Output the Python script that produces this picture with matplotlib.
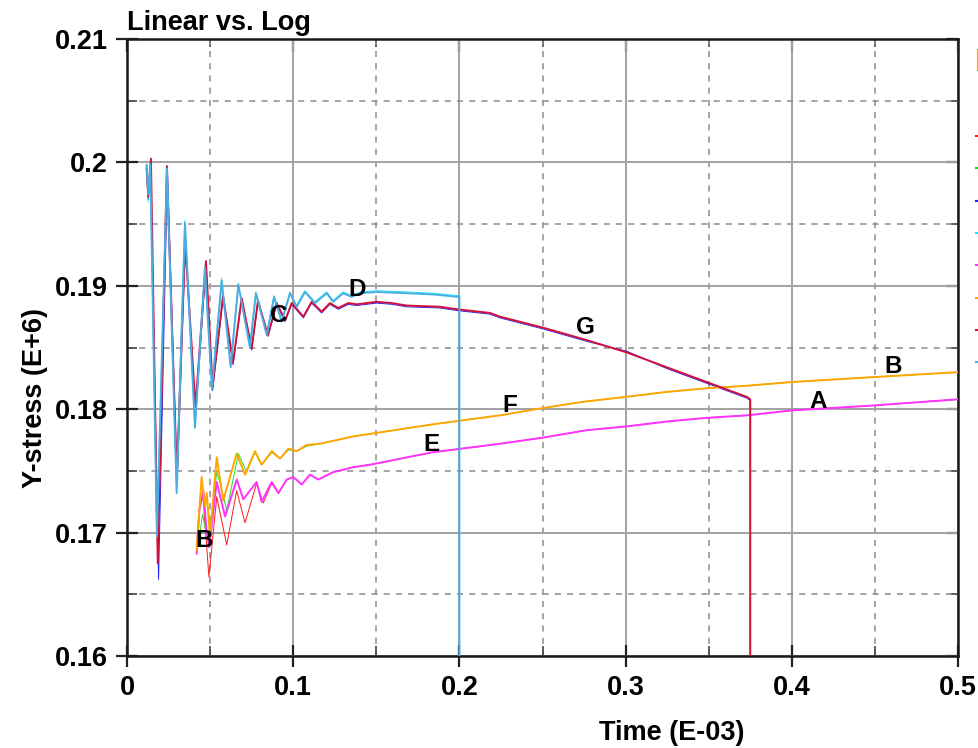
import matplotlib
matplotlib.use("Agg")
import matplotlib.pyplot as plt
from matplotlib.lines import Line2D
import numpy as np

# ---- curve data: time (E-03) and Y-stress (E+6) ----
# Group started at t ~ 0.012 (crimson/blue ends at 0.375, lightblue/cyan ends at 0.2)
crimson_t = [0.0118, 0.0128, 0.0144, 0.0185, 0.0240, 0.0300, 0.0350, 0.0412, 0.0475,
             0.0515, 0.0578, 0.0638, 0.0690, 0.0750, 0.0788, 0.0848, 0.0901, 0.0951,
             0.0991, 0.1061, 0.1111, 0.1171, 0.1221, 0.1271, 0.1332, 0.1382, 0.1502,
             0.1593, 0.1683, 0.1883, 0.1984, 0.2184, 0.2244, 0.2505, 0.2766, 0.3007,
             0.3247, 0.3488, 0.3729, 0.3750, 0.3750]
crimson_y = [0.1995, 0.1972, 0.2003, 0.1675, 0.1997, 0.1745, 0.1935, 0.1802, 0.1920,
             0.1818, 0.1892, 0.1838, 0.1890, 0.1849, 0.1888, 0.1860, 0.1886, 0.1872,
             0.1886, 0.1875, 0.1887, 0.1879, 0.1886, 0.1882, 0.1886, 0.1885, 0.1887,
             0.1886, 0.1884, 0.1883, 0.1881, 0.1878, 0.1875, 0.1866, 0.1856, 0.1846,
             0.1834, 0.1822, 0.1810, 0.1808, 0.1500]

blue_t = [0.0118, 0.0128, 0.0142, 0.0190, 0.0243, 0.0302, 0.0352, 0.0410, 0.0475,
          0.0515, 0.0578, 0.0638, 0.0690, 0.0750, 0.0788, 0.0848, 0.0901, 0.0951,
          0.0991, 0.1061, 0.1111, 0.1171, 0.1221, 0.1271, 0.1332, 0.1382, 0.1502,
          0.1593, 0.1683, 0.1883, 0.1984, 0.2184, 0.2244, 0.2505, 0.2766, 0.3007,
          0.3247, 0.3488, 0.3729, 0.3750, 0.3750]
blue_y = [0.1993, 0.1970, 0.1999, 0.1662, 0.1993, 0.1742, 0.1938, 0.1787, 0.1917,
          0.1815, 0.1890, 0.1836, 0.1889, 0.1848, 0.1887, 0.1859, 0.1885, 0.1871,
          0.1885, 0.1874, 0.1886, 0.1878, 0.1885, 0.1881, 0.1885, 0.1884, 0.1886,
          0.1885, 0.1883, 0.1882, 0.1880, 0.1877, 0.1874, 0.1865, 0.1855, 0.1847,
          0.1833, 0.1821, 0.1809, 0.1807, 0.1500]

lightblue_t = [0.0118, 0.0128, 0.0140, 0.0180, 0.0241, 0.0299, 0.0349, 0.0409, 0.0469,
               0.0511, 0.0570, 0.0624, 0.0670, 0.0740, 0.0776, 0.0841, 0.0885, 0.0931,
               0.0981, 0.1021, 0.1071, 0.1131, 0.1202, 0.1240, 0.1300, 0.1352, 0.1402,
               0.1502, 0.1683, 0.1843, 0.1993, 0.2000, 0.2000]
lightblue_y = [0.1998, 0.1974, 0.1999, 0.1697, 0.1995, 0.1732, 0.1951, 0.1785, 0.1915,
               0.1816, 0.1904, 0.1834, 0.1901, 0.1850, 0.1894, 0.1860, 0.1891, 0.1871,
               0.1894, 0.1883, 0.1895, 0.1886, 0.1894, 0.1887, 0.1894, 0.1891, 0.1894,
               0.1895, 0.1894, 0.1893, 0.1891, 0.1891, 0.1500]

cyan_t = [0.0116, 0.0127, 0.0139, 0.0179, 0.0240, 0.0297, 0.0347, 0.0407, 0.0468,
          0.0510, 0.0569, 0.0622, 0.0669, 0.0738, 0.0775, 0.0840, 0.0884, 0.0930,
          0.0980, 0.1020, 0.1070, 0.1130, 0.1201, 0.1240, 0.1300, 0.1352, 0.1402,
          0.1502, 0.1683, 0.1843, 0.1993, 0.2000, 0.2000]
cyan_y = [0.1996, 0.1968, 0.1997, 0.1700, 0.1993, 0.1737, 0.1953, 0.1789, 0.1913,
          0.1818, 0.1906, 0.1836, 0.1902, 0.1851, 0.1895, 0.1861, 0.1892, 0.1872,
          0.1895, 0.1884, 0.1896, 0.1887, 0.1895, 0.1888, 0.1895, 0.1892, 0.1895,
          0.1896, 0.1895, 0.1894, 0.1892, 0.1892, 0.1500]

# Group started at t ~ 0.042 (orange/green upper, magenta/red lower)
orange_t = [0.0419, 0.0449, 0.0469, 0.0480, 0.0499, 0.0540, 0.0579, 0.0660, 0.0710,
            0.0770, 0.0810, 0.0871, 0.0921, 0.0971, 0.1021, 0.1081, 0.1161, 0.1262,
            0.1362, 0.1462, 0.1853, 0.2244, 0.2505, 0.2745, 0.3002, 0.3247, 0.3488,
            0.3729, 0.3999, 0.4490, 0.5000]
orange_y = [0.1686, 0.1745, 0.1721, 0.1732, 0.1697, 0.1761, 0.1726, 0.1764, 0.1747,
            0.1766, 0.1755, 0.1766, 0.1760, 0.1768, 0.1766, 0.1771, 0.1772, 0.1775,
            0.1778, 0.1780, 0.1788, 0.1795, 0.1801, 0.1806, 0.1810, 0.1814, 0.1817,
            0.1819, 0.1822, 0.1826, 0.1830]

green_t = [0.0429, 0.0455, 0.0475, 0.0490, 0.0520, 0.0540, 0.0560, 0.0600, 0.0670,
           0.0720, 0.0770, 0.0810, 0.0871, 0.0921, 0.0971, 0.1021, 0.1081, 0.1161,
           0.1262, 0.1362, 0.1462, 0.1853, 0.2244, 0.2505, 0.2745, 0.3002, 0.3247,
           0.3488, 0.3729, 0.3999, 0.4490, 0.5000]
green_y = [0.1690, 0.1715, 0.1700, 0.1695, 0.1726, 0.1749, 0.1740, 0.1718, 0.1764,
           0.1749, 0.1765, 0.1755, 0.1765, 0.1760, 0.1767, 0.1766, 0.1770, 0.1772,
           0.1775, 0.1778, 0.1780, 0.1788, 0.1795, 0.1801, 0.1806, 0.1810, 0.1814,
           0.1817, 0.1819, 0.1822, 0.1826, 0.1830]

magenta_t = [0.0419, 0.0435, 0.0459, 0.0480, 0.0495, 0.0540, 0.0590, 0.0660, 0.0700,
             0.0780, 0.0810, 0.0871, 0.0911, 0.0961, 0.1001, 0.1051, 0.1101, 0.1151,
             0.1241, 0.1362, 0.1462, 0.1835, 0.2244, 0.2505, 0.2766, 0.3002, 0.3247,
             0.3488, 0.3729, 0.3999, 0.4490, 0.5000]
magenta_y = [0.1683, 0.1718, 0.1734, 0.1700, 0.1688, 0.1741, 0.1713, 0.1743, 0.1727,
             0.1741, 0.1725, 0.1741, 0.1732, 0.1743, 0.1745, 0.1739, 0.1747, 0.1743,
             0.1749, 0.1753, 0.1755, 0.1765, 0.1772, 0.1777, 0.1783, 0.1786, 0.1790,
             0.1793, 0.1795, 0.1799, 0.1803, 0.1808]

red_t = [0.0425, 0.0442, 0.0459, 0.0493, 0.0540, 0.0600, 0.0660, 0.0710, 0.0780,
         0.0820, 0.0871, 0.0911, 0.0961, 0.1001, 0.1051, 0.1101, 0.1151, 0.1241,
         0.1362, 0.1462, 0.1835, 0.2244, 0.2505, 0.2766, 0.3002, 0.3247, 0.3488,
         0.3729, 0.3999, 0.4490, 0.5000]
red_y = [0.1700, 0.1730, 0.1726, 0.1664, 0.1729, 0.1690, 0.1734, 0.1708, 0.1740,
         0.1724, 0.1740, 0.1732, 0.1743, 0.1745, 0.1739, 0.1747, 0.1743, 0.1749,
         0.1753, 0.1755, 0.1765, 0.1772, 0.1777, 0.1783, 0.1786, 0.1790, 0.1793,
         0.1795, 0.1799, 0.1803, 0.1808]

# drawing order follows the legend order (later curves on top);
# the curves drawn underneath are a little thinner
curves = [
    (red_t, red_y, "#ff1a1a", 0.7),
    (green_t, green_y, "#1fe01f", 0.7),
    (blue_t, blue_y, "#2323ff", 0.7),
    (cyan_t, cyan_y, "#14e6ff", 0.7),
    (magenta_t, magenta_y, "#ff33ff", 1.4),
    (orange_t, orange_y, "#ffa500", 1.4),
    (crimson_t, crimson_y, "#d01038", 1.4),
    (lightblue_t, lightblue_y, "#4aaee2", 1.4),
]

# curve letter labels
label_letters = ["B", "C", "D", "E", "F", "G", "A", "B"]
label_t = [0.0463, 0.0912, 0.1384, 0.1835, 0.2304, 0.2756, 0.4158, 0.4607]
label_y = [0.1694, 0.18760, 0.1897, 0.1771, 0.18034, 0.18666, 0.1806, 0.18345]

x_ticks = [0, 0.1, 0.2, 0.3, 0.4, 0.5]
x_tick_labels = ["0", "0.1", "0.2", "0.3", "0.4", "0.5"]
y_ticks = [0.16, 0.17, 0.18, 0.19, 0.20, 0.21]
y_tick_labels = ["0.16", "0.17", "0.18", "0.19", "0.2", "0.21"]

plt.rcParams["font.family"] = ["Liberation Sans", "DejaVu Sans"]
plt.rcParams["font.weight"] = "bold"

FS = 19.5

W, H = 979, 748
fig = plt.figure(figsize=(W / 100, H / 100), dpi=100)
L, R, T, B = 127, 958, 39, 656
ax = fig.add_axes([L / W, 1 - B / H, (R - L) / W, (B - T) / H])

ax.set_xlim(0, 0.5)
ax.set_ylim(0.16, 0.21)
ax.set_xticks(x_ticks)
ax.set_xticklabels(x_tick_labels)
ax.set_yticks(y_ticks)
ax.set_yticklabels(y_tick_labels)
ax.set_xticks(np.arange(0.05, 0.5, 0.1), minor=True)
ax.set_yticks(np.arange(0.165, 0.21, 0.01), minor=True)

ax.grid(which="major", color="#a2a2a2", lw=1.4, ls="-", zorder=0)
ax.grid(which="minor", color="#8c8c8c", lw=1.1, ls=(0, (4, 4)), zorder=0)

for t, y, c, w in curves:
    ax.plot(t, y, color=c, lw=w, zorder=3)

for s, t, y in zip(label_letters, label_t, label_y):
    ax.text(t, y, s, fontsize=17.5, fontweight="bold", ha="center", va="center",
            color="black", zorder=5)

for sp in ax.spines.values():
    sp.set_color("#1a1a1a")
    sp.set_linewidth(1.8)

ax.tick_params(which="major", direction="inout", length=16, width=1.6,
               color="#222222", labelsize=FS, pad=6)
ax.tick_params(which="minor", direction="in", length=7, width=1.2, color="#444444")

# inward ticks on top and right frame
sx = ax.secondary_xaxis("top")
sx.set_xticks(x_ticks)
sx.set_xticks(np.arange(0.05, 0.5, 0.1), minor=True)
sx.tick_params(which="major", direction="in", length=9, width=1.6, color="#222222",
               labeltop=False)
sx.tick_params(which="minor", direction="in", length=6, width=1.2, color="#444444")
sy = ax.secondary_yaxis("right")
sy.set_yticks(y_ticks)
sy.set_yticks(np.arange(0.165, 0.21, 0.01), minor=True)
sy.tick_params(which="major", direction="in", length=9, width=1.6, color="#222222",
               labelright=False)
sy.tick_params(which="minor", direction="in", length=6, width=1.2, color="#444444")
for s in (sx, sy):
    for sp in s.spines.values():
        sp.set_visible(False)

for lab in ax.get_xticklabels() + ax.get_yticklabels():
    lab.set_fontweight("bold")

fig.text(L / W, 1 - 30 / H, "Linear vs. Log", fontsize=FS, fontweight="bold",
         ha="left", va="baseline")
fig.text(672 / W, 1 - 733 / H, "Time (E-03)", fontsize=FS, fontweight="bold",
         ha="center", va="center")
fig.text(35 / W, 1 - 398 / H, "Y-stress (E+6)", fontsize=FS, fontweight="bold",
         ha="center", va="center", rotation=90)

# legend swatches at the right border
legend_rows = [136, 168, 201, 233, 265, 298, 330, 362]
for row, (_, _, c, _) in zip(legend_rows, curves):
    fig.add_artist(Line2D([976 / W, 980 / W], [1 - row / H, 1 - row / H],
                          color=c, lw=1.5, transform=fig.transFigure))
fig.add_artist(Line2D([978 / W, 978 / W], [1 - 50 / H, 1 - 70 / H],
                      color="#f0a040", lw=1.5, transform=fig.transFigure))

fig.savefig("out.png", dpi=100, facecolor="white")
